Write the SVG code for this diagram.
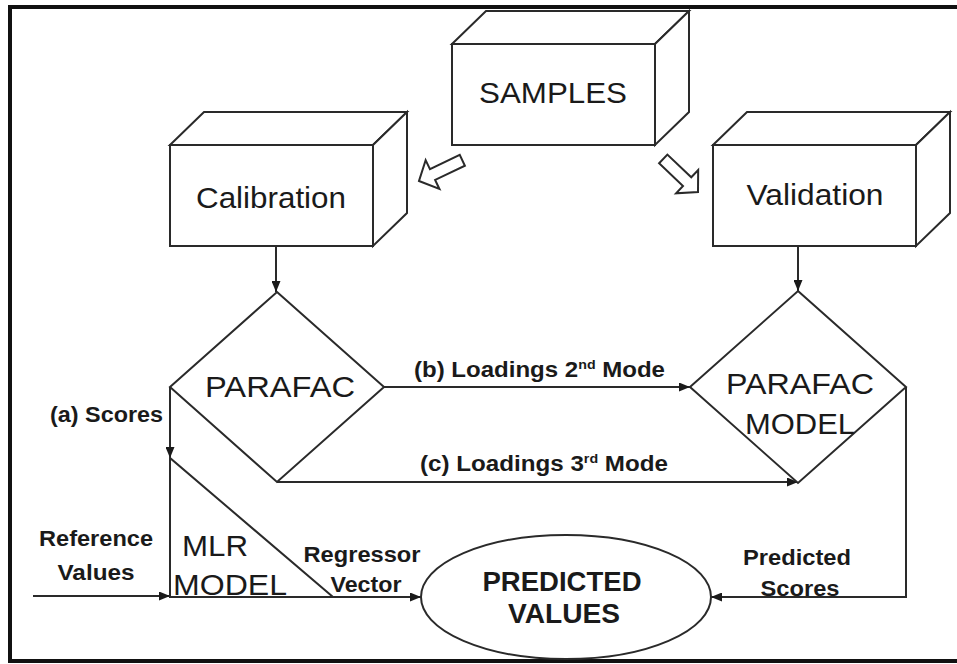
<svg xmlns="http://www.w3.org/2000/svg" width="957" height="664" viewBox="0 0 957 664">
  <style>
    .frame { fill: none; stroke: #111; stroke-width: 4; }
    .box { fill: #fff; stroke: #2a2a2a; stroke-width: 2; stroke-linejoin: miter; }
    .shape { fill: #fff; stroke: #2a2a2a; stroke-width: 2; }
    .link { fill: none; stroke: #2a2a2a; stroke-width: 2; }
    .hollow { fill: #fff; stroke: #2a2a2a; stroke-width: 2; stroke-linejoin: miter; }
    .big { font-family: "Liberation Sans", Arial, sans-serif; font-size: 30px; fill: #1a1a1a; text-anchor: middle; }
    .lbl { font-family: "Liberation Sans", Arial, sans-serif; font-size: 22px; font-weight: bold; fill: #1a1a1a; }
    .pv { font-family: "Liberation Sans", Arial, sans-serif; font-size: 27px; font-weight: bold; fill: #1a1a1a; text-anchor: middle; }
    .mid { text-anchor: middle; }
  </style>
  <defs>
    <marker id="arrow" markerUnits="userSpaceOnUse" markerWidth="11" markerHeight="9" refX="11" refY="4.5" orient="auto">
      <path d="M0,0 L11,4.5 L0,9 z" fill="#1a1a1a"/>
    </marker>
    <!-- outlined block arrow, tip at origin, pointing along +x -->
    <polygon id="blockArrow" points="0,0 -15,-16 -15,-6 -48,-6 -48,6 -15,6 -15,16"/>
  </defs>

  <rect width="957" height="664" fill="#fff"/>

  <!-- outer frame (open on the right) -->
  <path class="frame" d="M957,7 H10 V661 H957"/>

  <!-- connectors -->
  <g id="connectors">
    <use href="#blockArrow" class="hollow" transform="translate(419,181) rotate(154.5)"/>
    <use href="#blockArrow" class="hollow" transform="translate(698,192) rotate(43.6)"/>
    <path class="link" d="M276,246 V292" marker-end="url(#arrow)"/>
    <path class="link" d="M798,246 V291" marker-end="url(#arrow)"/>
    <path class="link" d="M384,387 H690" marker-end="url(#arrow)"/>
    <path class="link" d="M277,482 H798" marker-end="url(#arrow)"/>
    <path class="link" d="M170,387 V458" marker-end="url(#arrow)"/>
    <path class="link" d="M33,596 H170" marker-end="url(#arrow)"/>
    <path class="link" d="M333,597 H421" marker-end="url(#arrow)"/>
    <path class="link" d="M906,387 V597 H711" marker-end="url(#arrow)"/>
    <text class="lbl" x="414" y="377" textLength="251" lengthAdjust="spacingAndGlyphs">(b) Loadings 2<tspan font-size="13" dy="-8">nd</tspan><tspan dy="8"> Mode</tspan></text>
    <text class="lbl" x="420" y="471" textLength="248" lengthAdjust="spacingAndGlyphs">(c) Loadings 3<tspan font-size="13" dy="-8">rd</tspan><tspan dy="8"> Mode</tspan></text>
    <text class="lbl" x="50" y="422" textLength="113" lengthAdjust="spacingAndGlyphs">(a) Scores</text>
    <text class="lbl mid" x="96" y="546" textLength="114" lengthAdjust="spacingAndGlyphs">Reference</text>
    <text class="lbl mid" x="96" y="580" textLength="77" lengthAdjust="spacingAndGlyphs">Values</text>
    <text class="lbl mid" x="362" y="562" textLength="117" lengthAdjust="spacingAndGlyphs">Regressor</text>
    <text class="lbl mid" x="366" y="592" textLength="71" lengthAdjust="spacingAndGlyphs">Vector</text>
    <text class="lbl mid" x="797" y="565" textLength="108" lengthAdjust="spacingAndGlyphs">Predicted</text>
    <text class="lbl mid" x="800" y="596" textLength="79" lengthAdjust="spacingAndGlyphs">Scores</text>
  </g>

  <!-- SAMPLES block -->
  <g id="samples">
    <path class="box" d="M452,44 L486,11 H689 L655,44 Z"/>
    <path class="box" d="M655,44 L689,11 V112 L655,145 Z"/>
    <rect class="box" x="452" y="44" width="203" height="101"/>
    <text class="big" x="553" y="103" textLength="148" lengthAdjust="spacingAndGlyphs">SAMPLES</text>
  </g>

  <!-- Calibration block -->
  <g id="calibration">
    <path class="box" d="M170,145 L204,112 H407 L373,145 Z"/>
    <path class="box" d="M373,145 L407,112 V213 L373,246 Z"/>
    <rect class="box" x="170" y="145" width="203" height="101"/>
    <text class="big" x="271" y="208" textLength="150" lengthAdjust="spacingAndGlyphs">Calibration</text>
  </g>

  <!-- Validation block -->
  <g id="validation">
    <path class="box" d="M713,145 L747,112 H950 L916,145 Z"/>
    <path class="box" d="M916,145 L950,112 V213 L916,246 Z"/>
    <rect class="box" x="713" y="145" width="203" height="101"/>
    <text class="big" x="815" y="205" textLength="137" lengthAdjust="spacingAndGlyphs">Validation</text>
  </g>

  <!-- PARAFAC decision -->
  <g id="parafac">
    <polygon class="shape" points="277,292 384,387 277,482 170,387"/>
    <text class="big" x="280" y="397" textLength="150" lengthAdjust="spacingAndGlyphs">PARAFAC</text>
  </g>

  <!-- PARAFAC model decision -->
  <g id="parafac-model">
    <polygon class="shape" points="798,291 906,387 798,483 690,387"/>
    <text class="big" x="800" y="394" textLength="148" lengthAdjust="spacingAndGlyphs">PARAFAC</text>
    <text class="big" x="800" y="434" textLength="110" lengthAdjust="spacingAndGlyphs">MODEL</text>
  </g>

  <!-- MLR model triangle -->
  <g id="mlr-model">
    <path class="link" d="M170,458 V597 H333 Z"/>
    <text class="big" x="215" y="556" textLength="66" lengthAdjust="spacingAndGlyphs">MLR</text>
    <text class="big" x="230" y="595" textLength="114" lengthAdjust="spacingAndGlyphs">MODEL</text>
  </g>

  <!-- predicted values -->
  <g id="predicted-values">
    <ellipse class="shape" cx="566" cy="597" rx="145" ry="62" stroke-width="2.5"/>
    <text class="pv" x="562" y="591" textLength="159" lengthAdjust="spacingAndGlyphs">PREDICTED</text>
    <text class="pv" x="564" y="623" textLength="112" lengthAdjust="spacingAndGlyphs">VALUES</text>
  </g>
</svg>
